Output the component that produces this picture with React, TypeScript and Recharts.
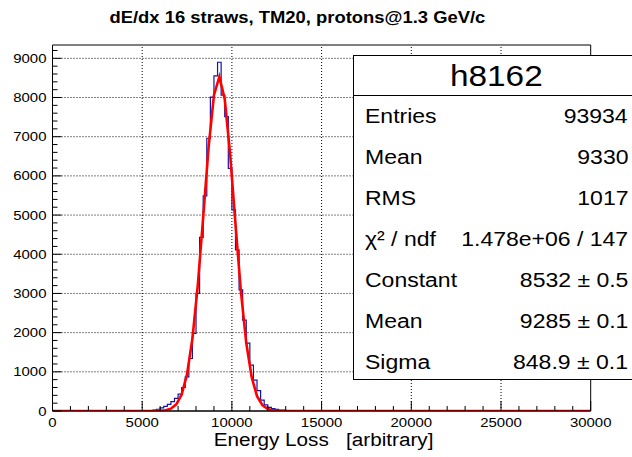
import React from "react";
import { ComposedChart, Line, XAxis, YAxis, ReferenceLine, ReferenceArea } from "recharts";

// histogram bins (lower edge, width 200) and counts
const binLow = [
  5600, 5800, 6000, 6200, 6400, 6600, 6800, 7000, 7200, 7400,
  7600, 7800, 8000, 8200, 8400, 8600, 8800, 9000, 9200, 9400,
  9600, 9800, 10000, 10200, 10400, 10600, 10800, 11000, 11200, 11400,
  11600, 11800, 12000, 12200, 12400, 12600, 12800, 13000,
];
const binCounts = [
  25, 45, 80, 120, 170, 240, 320, 430, 600, 870,
  1340, 1980, 3000, 4430, 5490, 6960, 8010, 8550, 8900, 8060,
  7510, 6190, 5130, 4110, 3090, 2320, 1730, 1170, 790, 520,
  280, 155, 95, 60, 40, 26, 20, 10,
];
const binWidth = 200;

// gaussian fit curve, read at its drawn points
const fitX = [
  0, 6000, 6300, 6600, 6900, 7200, 7500, 7800, 8100, 8400, 8700, 9000,
  9300, 9600, 9900, 10200, 10500, 10800, 11100, 11400, 11700, 12000, 12300, 12600, 30000,
];
const fitY = [
  0, 5, 20, 60, 170, 420, 940, 1850, 3220, 4950, 6730, 8060,
  8530, 7960, 6560, 4770, 3060, 1740, 870, 380, 150, 50, 15, 5, 0,
];

const xMajorTicks = [0, 5000, 10000, 15000, 20000, 25000, 30000];
const yMajorTicks = [0, 1000, 2000, 3000, 4000, 5000, 6000, 7000, 8000, 9000];
const xTicks = Array.from({ length: 31 }, (_, i) => i * 1000);
const yTicks = Array.from({ length: 47 }, (_, i) => i * 200);

const histName = "h8162";
const statLabels = ["Entries", "Mean", "RMS", "χ² / ndf", "Constant", "Mean", "Sigma"];
const statValues = ["93934", "9330", "1017", "1.478e+06 / 147", "8532 ± 0.5", "9285 ± 0.1", "848.9 ± 0.1"];

const title = "dE/dx 16 straws, TM20, protons@1.3 GeV/c";
const xTitle = "Energy Loss   [arbitrary]";

const FONT = "'Liberation Sans', Arial, Helvetica, sans-serif";
const SX = 1.15;

const histData: { x: number; y: number }[] = [{ x: 0, y: 0 }];
binLow.forEach((lo, i) => histData.push({ x: lo, y: binCounts[i] }));
histData.push({ x: binLow[binLow.length - 1] + binWidth, y: 0 });
histData.push({ x: 30000, y: 0 });

const fitData = fitX.map((x, i) => ({ x, y: fitY[i] }));

const XTick = (props: any) => {
  const { x, y, payload } = props;
  const v = payload.value;
  const major = xMajorTicks.includes(v);
  return (
    <g>
      <line x1={x} x2={x} y1={y} y2={y - (major ? 10 : 5)} stroke="#000" />
      {major && (
        <text
          transform={`translate(${x},${y + 15.5}) scale(${SX},1)`}
          textAnchor="middle"
          fontSize={13}
          fontFamily={FONT}
          fill="#000"
        >
          {v}
        </text>
      )}
    </g>
  );
};

const YTick = (props: any) => {
  const { x, y, payload } = props;
  const v = payload.value;
  const major = yMajorTicks.includes(v);
  return (
    <g>
      <line x1={x} x2={x + (major ? 9 : 5)} y1={y} y2={y} stroke="#000" />
      {major && (
        <text
          transform={`translate(${x - 6},${y + 4.6}) scale(${SX},1)`}
          textAnchor="end"
          fontSize={13}
          fontFamily={FONT}
          fill="#000"
        >
          {v}
        </text>
      )}
    </g>
  );
};

const stretch = (origin: string): React.CSSProperties => ({
  display: "inline-block",
  transform: `scaleX(${SX})`,
  transformOrigin: origin,
  whiteSpace: "pre",
});

export default function App() {
  return (
    <div
      style={{
        position: "absolute",
        left: 0,
        top: 0,
        width: 632,
        height: 457,
        overflow: "hidden",
        background: "#fff",
        fontFamily: FONT,
        color: "#000",
      }}
    >
      <ComposedChart width={632} height={457} margin={{ top: 45, right: 41.3, bottom: 0, left: 0 }}>
        <XAxis
          type="number"
          dataKey="x"
          domain={[0, 30000]}
          ticks={xTicks}
          interval={0}
          tick={XTick}
          tickLine={false}
          tickSize={0}
          tickMargin={0}
          height={46}
          axisLine={{ stroke: "#000" }}
          allowDataOverflow
        />
        <YAxis
          type="number"
          dataKey="y"
          domain={[0, 9340]}
          ticks={yTicks}
          interval={0}
          tick={YTick}
          tickLine={false}
          tickSize={0}
          tickMargin={0}
          width={52.5}
          axisLine={{ stroke: "#000" }}
          allowDataOverflow
        />
        {xMajorTicks.slice(1, -1).map((v) => (
          <ReferenceLine key={`gx${v}`} x={v} stroke="#000" strokeDasharray="1 2" />
        ))}
        {yMajorTicks.slice(1).map((v) => (
          <ReferenceLine key={`gy${v}`} y={v} stroke="#000" strokeDasharray="1 2" />
        ))}
        <ReferenceArea x1={0} x2={30000} y1={0} y2={9340} fill="none" stroke="#000" strokeWidth={1} />
        <Line
          data={histData}
          dataKey="y"
          type="stepAfter"
          stroke="#1414a8"
          strokeWidth={1.2}
          dot={false}
          isAnimationActive={false}
        />
        <Line
          data={fitData}
          dataKey="y"
          type="linear"
          stroke="#ff0000"
          strokeWidth={2.6}
          dot={false}
          isAnimationActive={false}
        />
      </ComposedChart>

      <div
        style={{
          position: "absolute",
          left: 0,
          top: 9,
          width: 595,
          textAlign: "center",
          fontSize: 16,
          fontWeight: "bold",
        }}
      >
        <span style={stretch("center")}>{title}</span>
      </div>

      <div
        style={{
          position: "absolute",
          left: 0,
          top: 430,
          width: 648,
          textAlign: "center",
          fontSize: 18,
        }}
      >
        <span style={stretch("center")}>{xTitle}</span>
      </div>

      <div
        style={{
          position: "absolute",
          left: 353,
          top: 55,
          width: 287,
          height: 325,
          border: "1px solid #000",
          boxSizing: "border-box",
          background: "#fff",
        }}
      >
        <div
          style={{
            height: 40,
            borderBottom: "1px solid #000",
            boxSizing: "border-box",
            textAlign: "center",
            fontSize: 29,
            lineHeight: "40px",
          }}
        >
          <span style={stretch("center")}>{histName}</span>
        </div>
        {statLabels.map((label, i) => (
          <div
            key={i}
            style={{
              position: "absolute",
              left: 11,
              width: 263,
              top: 40 + i * 41,
              height: 41,
              lineHeight: "41px",
              fontSize: 20,
              display: "flex",
              justifyContent: "space-between",
            }}
          >
            <span style={stretch("left center")}>{label}</span>
            <span style={stretch("right center")}>{statValues[i]}</span>
          </div>
        ))}
      </div>
    </div>
  );
}
